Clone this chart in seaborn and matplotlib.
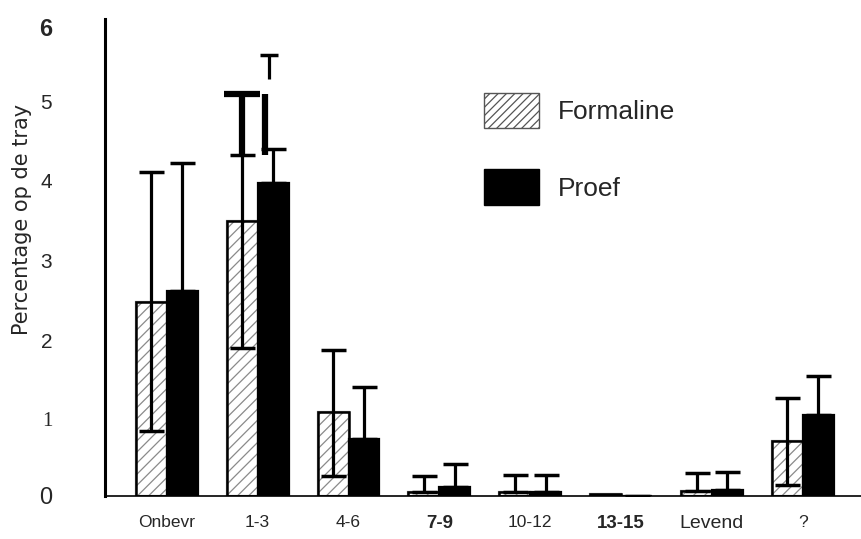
import numpy as np
import pandas as pd
import matplotlib
matplotlib.use("Agg")
import matplotlib.pyplot as plt
import matplotlib.transforms as mtransforms
import seaborn as sns
from matplotlib.patches import Patch, Rectangle

categories = ["Onbevr", "1-3", "4-6", "7-9", "10-12", "13-15", "Levend", "?"]
formaline = [2.44, 3.46, 1.06, 0.05, 0.05, 0.02, 0.06, 0.69]
proef = [2.58, 3.94, 0.72, 0.11, 0.05, 0.0, 0.07, 1.02]
formaline_hi = [4.08, 4.29, 1.84, 0.25, 0.26, np.nan, 0.29, 1.23]
formaline_lo = [0.82, 1.86, 0.25, 0.05, 0.05, np.nan, 0.06, 0.14]
proef_hi = [4.19, 4.37, 1.37, 0.40, 0.26, np.nan, 0.30, 1.51]
# overprinted marks on the "1-3" group (scan artefacts in the original)
over_lo = 4.29
over_hi = 5.06
over_thin = [5.24, 5.55]
yticks = [0, 1, 2, 3, 4, 5, 6]

sns.set_style("white")
plt.rcParams["font.family"] = ["Liberation Sans", "DejaVu Sans"]
plt.rcParams["hatch.linewidth"] = 0.9

df = pd.DataFrame({
    "cat": categories * 2,
    "val": formaline + proef,
    "serie": ["Formaline"] * len(categories) + ["Proef"] * len(categories),
})

fig = plt.figure(figsize=(8.61, 5.39), dpi=100)
ax = fig.add_axes([105 / 861, 43 / 539, 756 / 861, 477 / 539])

sns.barplot(data=df, x="cat", y="val", hue="serie",
            palette={"Formaline": "white", "Proef": "black"},
            width=0.68, gap=0, errorbar=None, edgecolor="black",
            linewidth=1.6, legend=False, ax=ax, saturation=1)

for b in ax.containers[0]:
    b.set_hatch("///")
    b.set_edgecolor("#8a8a8a")
    ax.add_patch(Rectangle((b.get_x(), b.get_y()), b.get_width(), b.get_height(),
                           fill=False, edgecolor="black", linewidth=1.8, zorder=b.get_zorder() + 0.1))

xf = np.array([b.get_x() + b.get_width() / 2 for b in ax.containers[0]])
xp = np.array([b.get_x() + b.get_width() / 2 for b in ax.containers[1]])
fv = np.array(formaline); pv = np.array(proef)
fh = np.array(formaline_hi); fl = np.array(formaline_lo); ph = np.array(proef_hi)

ax.errorbar(xf, fv, yerr=[fv - fl, fh - fv], fmt="none", ecolor="black",
            elinewidth=2.3, capsize=9, capthick=2.5, zorder=5)
ax.errorbar(xp, pv, yerr=[np.zeros_like(pv), ph - pv], fmt="none", ecolor="black",
            elinewidth=2.3, capsize=9, capthick=2.5, zorder=5)

# overprint marks on group 1-3
ax.vlines([xf[1]], over_lo, over_hi, color="black", lw=4.5, zorder=6)
ax.plot([xf[1]], [over_hi], marker="_", ms=26, mew=4.5, color="black", zorder=6)
ax.vlines([xp[1] - 0.09], over_lo, over_hi, color="black", lw=4.5, zorder=6)
ax.vlines([xp[1] - 0.04], over_thin[0], over_thin[1], color="black", lw=2.3, zorder=6)
ax.plot([xp[1] - 0.04], [over_thin[1]], marker="_", ms=13, mew=2.5, color="black", zorder=6)

ax.set_xlim(-0.68, 7.64)
ax.set_ylim(0, 6)
sns.despine(ax=ax)
ax.spines["left"].set_linewidth(2.2)
ax.spines["bottom"].set_linewidth(1.2)
ax.spines["left"].set_color("black")
ax.spines["bottom"].set_color("black")

ax.set_yticks(yticks)
ax.set_yticklabels([str(t) for t in yticks])
ax.tick_params(axis="y", direction="in", length=7, width=2, pad=38, labelsize=15)
for lab in ax.get_yticklabels():
    if lab.get_text() == "6":
        lab.set_fontsize(17); lab.set_fontweight("bold")
        lab.set_transform(lab.get_transform() +
                          mtransforms.ScaledTranslation(0, -8 / 100, fig.dpi_scale_trans))
    elif lab.get_text() == "0":
        lab.set_fontsize(17)
    else:
        lab.set_transform(lab.get_transform() +
                          mtransforms.ScaledTranslation(0, -3 / 100, fig.dpi_scale_trans))
    if lab.get_text() == "1":
        lab.set_family("Liberation Serif")

ax.set_xticks(range(len(categories)))
ax.set_xticklabels(categories)
ax.tick_params(axis="x", length=0, pad=14, labelsize=12.5)
for lab in ax.get_xticklabels():
    if lab.get_text() in ("7-9", "13-15"):
        lab.set_fontweight("bold"); lab.set_fontsize(13.5)
    if lab.get_text() == "Levend":
        lab.set_fontsize(14)

ax.set_xlabel("")
ax.set_ylabel("Percentage op de tray", fontsize=15, family="DejaVu Sans")
ax.yaxis.set_label_coords((32 - 105) / 756, 0.58)

handles = [Patch(facecolor="white", hatch="////", edgecolor="#555555", label="Formaline"),
           Patch(facecolor="black", edgecolor="black", label="Proef")]
ax.legend(handles=handles, frameon=False, fontsize=19, handlelength=2.08,
          handleheight=1.7, labelspacing=1.55, handletextpad=0.72, borderpad=0,
          loc="upper left", bbox_to_anchor=(0.484, 0.873))

fig.savefig("out.png", dpi=100)
